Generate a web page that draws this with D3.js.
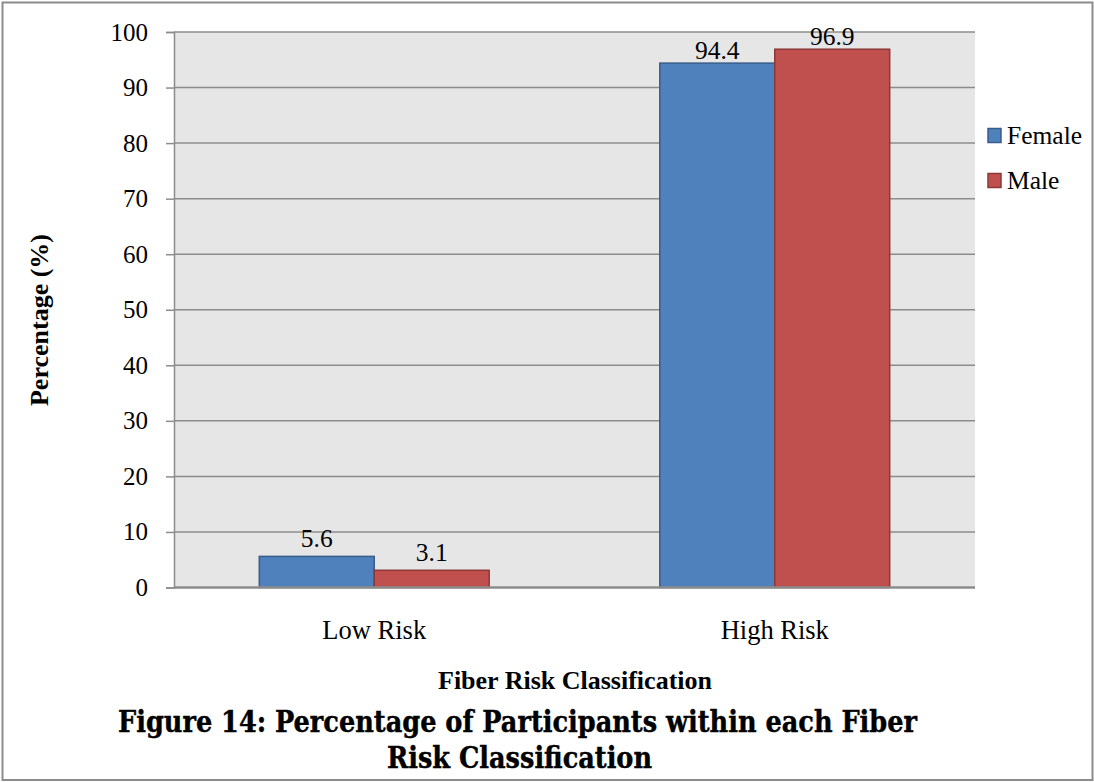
<!DOCTYPE html>
<html>
<head>
<meta charset="utf-8">
<script src="https://cdn.jsdelivr.net/npm/d3@7"></script>
<style>
  html, body { margin: 0; padding: 0; background: #fff; }
  svg { display: block; }
</style>
</head>
<body>
<svg id="chart" width="1094" height="782"></svg>
<script>
// Fiber risk classification by sex
const categories = ["Low Risk", "High Risk"];
const seriesNames = ["Female", "Male"];
const femaleValues = [5.6, 94.4];
const maleValues = [3.1, 96.9];
const yTicks = [0, 10, 20, 30, 40, 50, 60, 70, 80, 90, 100];

const seriesValues = { Female: femaleValues, Male: maleValues };
const colors = { Female: "#4f81bd", Male: "#c0504d" };
const strokes = { Female: "#385d8a", Male: "#8c3836" };

const svg = d3.select("#chart");
const W = 1094, H = 782;
const serif = "'Liberation Serif', 'Times New Roman', Times, serif";

// outer frame
svg.append("rect")
  .attr("x", 2.5).attr("y", 2.5)
  .attr("width", W - 4).attr("height", H - 4.5)
  .attr("fill", "#fff").attr("stroke", "#8c8c8c").attr("stroke-width", 2);

const plot = { left: 174, right: 975, top: 32, bottom: 587.5 };

const x0 = d3.scaleBand()
  .domain(categories)
  .range([plot.left, plot.right])
  .paddingInner(0.426)
  .paddingOuter(0.213);

const x1 = d3.scaleBand()
  .domain(seriesNames)
  .range([0, x0.bandwidth()]);

const y = d3.scaleLinear().domain([0, 100]).range([plot.bottom, plot.top]);

// plot background
svg.append("rect")
  .attr("x", plot.left).attr("y", plot.top)
  .attr("width", plot.right - plot.left).attr("height", plot.bottom - plot.top)
  .attr("fill", "#e6e6e6");

// gridlines
svg.append("g")
  .selectAll("line")
  .data(yTicks.filter(d => d > 0))
  .join("line")
  .attr("x1", plot.left).attr("x2", plot.right)
  .attr("y1", d => y(d)).attr("y2", d => y(d))
  .attr("stroke", "#8c8c8c").attr("stroke-width", 1.5);

// y axis
const yAxis = svg.append("g")
  .attr("transform", `translate(${plot.left},0)`)
  .call(d3.axisLeft(y).tickValues(yTicks).tickSize(8).tickPadding(18));
yAxis.attr("font-family", serif).attr("font-size", 25);
yAxis.select(".domain").attr("stroke", "#8c8c8c").attr("stroke-width", 1.5);
yAxis.selectAll(".tick line").attr("stroke", "#8c8c8c").attr("stroke-width", 1.5);
yAxis.selectAll(".tick text").attr("fill", "#000");

// bars
const groups = svg.append("g")
  .selectAll("g")
  .data(categories)
  .join("g")
  .attr("transform", c => `translate(${x0(c)},0)`);

groups.selectAll("rect")
  .data((c, i) => seriesNames.map(s => ({ s, v: seriesValues[s][i] })))
  .join("rect")
  .attr("x", d => x1(d.s))
  .attr("y", d => y(d.v))
  .attr("width", x1.bandwidth())
  .attr("height", d => y(0) - y(d.v))
  .attr("fill", d => colors[d.s])
  .attr("stroke", d => strokes[d.s])
  .attr("stroke-width", 1.5);

groups.selectAll("text")
  .data((c, i) => seriesNames.map(s => ({ s, v: seriesValues[s][i] })))
  .join("text")
  .attr("x", d => x1(d.s) + x1.bandwidth() / 2)
  .attr("y", d => y(d.v) - (d.v > 90 ? 4 : 9))
  .attr("text-anchor", "middle")
  .attr("font-family", serif).attr("font-size", 25.5).attr("fill", "#000")
  .text(d => d.v.toFixed(1));

// x axis baseline
const xAxis = svg.append("g")
  .attr("transform", `translate(0,${plot.bottom})`)
  .call(d3.axisBottom(x0).tickSize(0).tickPadding(33));
xAxis.attr("font-family", serif).attr("font-size", 26.5);
xAxis.select(".domain")
  .attr("stroke", "#8c8c8c").attr("stroke-width", 2.5)
  .attr("d", `M${plot.left},0H${plot.right}`);
xAxis.selectAll(".tick text").attr("fill", "#000");

// axis titles
svg.append("text")
  .attr("x", 575).attr("y", 689)
  .attr("text-anchor", "middle")
  .attr("font-family", serif).attr("font-size", 26).attr("font-weight", "bold")
  .text("Fiber Risk Classification");

svg.append("text")
  .attr("transform", `translate(48,320) rotate(-90)`)
  .attr("text-anchor", "middle")
  .attr("font-family", serif).attr("font-size", 26).attr("font-weight", "bold")
  .text("Percentage (%)");

// legend
const legend = svg.append("g")
  .selectAll("g")
  .data(seriesNames)
  .join("g")
  .attr("transform", (d, i) => `translate(988,${128.5 + i * 45})`);
legend.append("rect")
  .attr("width", 13).attr("height", 14)
  .attr("fill", d => colors[d]).attr("stroke", d => strokes[d]).attr("stroke-width", 1.5);
legend.append("text")
  .attr("x", 19).attr("y", 15.5)
  .attr("font-family", serif).attr("font-size", 25.5).attr("fill", "#000")
  .text(d => d);

// caption
const caption = svg.append("text")
  .attr("text-anchor", "middle")
  .attr("font-family", "'DejaVu Serif Condensed', 'DejaVu Serif', serif")
  .attr("font-weight", "bold")
  .attr("font-size", 29)
  .attr("fill", "#000")
  .attr("stroke", "#000").attr("stroke-width", 0.4);
caption.append("tspan").attr("x", 517.5).attr("y", 732)
  .attr("textLength", 799).attr("lengthAdjust", "spacingAndGlyphs")
  .text("Figure 14: Percentage of Participants within each Fiber");
caption.append("tspan").attr("x", 519.5).attr("y", 768)
  .attr("textLength", 265).attr("lengthAdjust", "spacingAndGlyphs")
  .text("Risk Classification");
</script>
</body>
</html>
